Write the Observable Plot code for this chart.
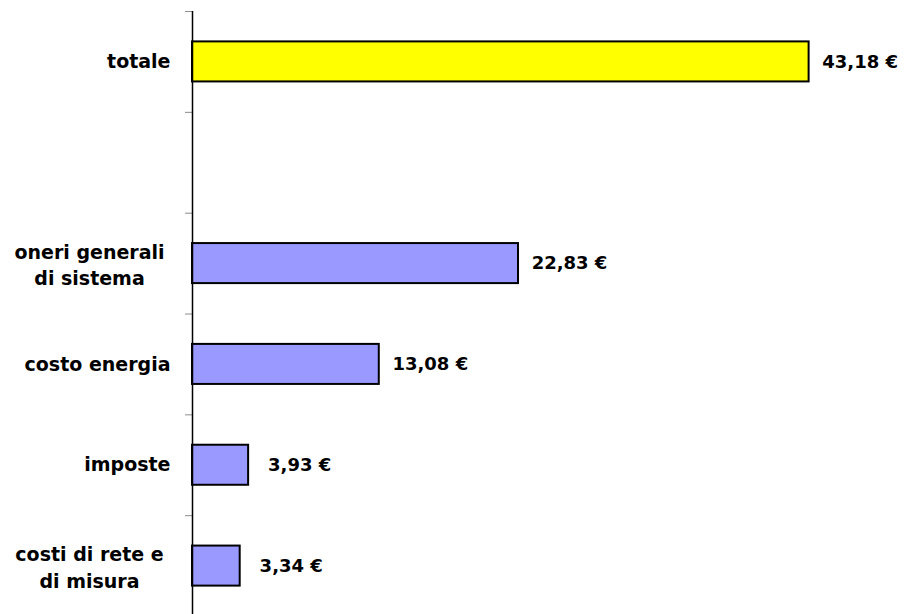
<!DOCTYPE html>
<html>
<head>
<meta charset="utf-8">
<script src="https://cdn.jsdelivr.net/npm/d3@7"></script>
<script src="https://cdn.jsdelivr.net/npm/@observablehq/plot@0.6"></script>
<style>
  html, body { margin: 0; padding: 0; background: white; overflow: hidden; }
  svg { display: block; }
</style>
</head>
<body>
<div id="chart"></div>
<script>
// Categories (top to bottom); "" is the empty gap row
const categories = ["totale", "", "oneri generali\ndi sistema", "costo energia", "imposte", "costi di rete e\ndi misura"];
const barCategories = ["totale", "oneri generali\ndi sistema", "costo energia", "imposte", "costi di rete e\ndi misura"];
const values = [43.18, 22.83, 13.08, 3.93, 3.34];
const valueLabels = ["43,18 €", "22,83 €", "13,08 €", "3,93 €", "3,34 €"];
const barColors = ["#FFFF00", "#9999FF", "#9999FF", "#9999FF", "#9999FF"];
const xDomain = [0, 50];

const data = barCategories.map((c, i) => ({cat: c, value: values[i], fill: barColors[i], label: valueLabels[i]}));
const singleLine = categories.filter(c => c && !c.includes("\n"));
const multiLine = categories.filter(c => c.includes("\n"));

const chart = Plot.plot({
  width: 906,
  height: 617,
  marginLeft: 192,
  marginRight: 0,
  marginTop: 11,
  marginBottom: 1,
  style: {fontFamily: "'DejaVu Sans', Verdana, sans-serif", background: "white", color: "black"},
  x: {domain: xDomain, axis: null},
  y: {domain: categories, padding: 0, round: false},
  marks: [
    Plot.axisY({tickSize: 7, stroke: "#8c8c8c", fill: "none", dy: -50.4, label: null, tickFormat: () => ""}),
    Plot.barX(data, {x: "value", y: "cat", fill: "fill", stroke: "black", strokeWidth: 2, insetTop: 30.4, insetBottom: 30.4}),
    Plot.ruleX([0], {stroke: "black", strokeWidth: 1.5}),
    Plot.text(data, {x: "value", y: "cat", text: "label", textAnchor: "middle", dx: 51, fontSize: 18, fontWeight: "bold", fill: "black"}),
    Plot.text(singleLine, {y: d => d, text: d => d, frameAnchor: "left", textAnchor: "end", dx: -22, fontSize: 19, fontWeight: "bold", fill: "black"}),
    Plot.text(multiLine, {y: d => d, text: d => d, frameAnchor: "left", textAnchor: "middle", dx: -103, lineHeight: 1.4, fontSize: 19, fontWeight: "bold", fill: "black"})
  ]
});
document.getElementById("chart").appendChild(chart);
</script>
</body>
</html>
